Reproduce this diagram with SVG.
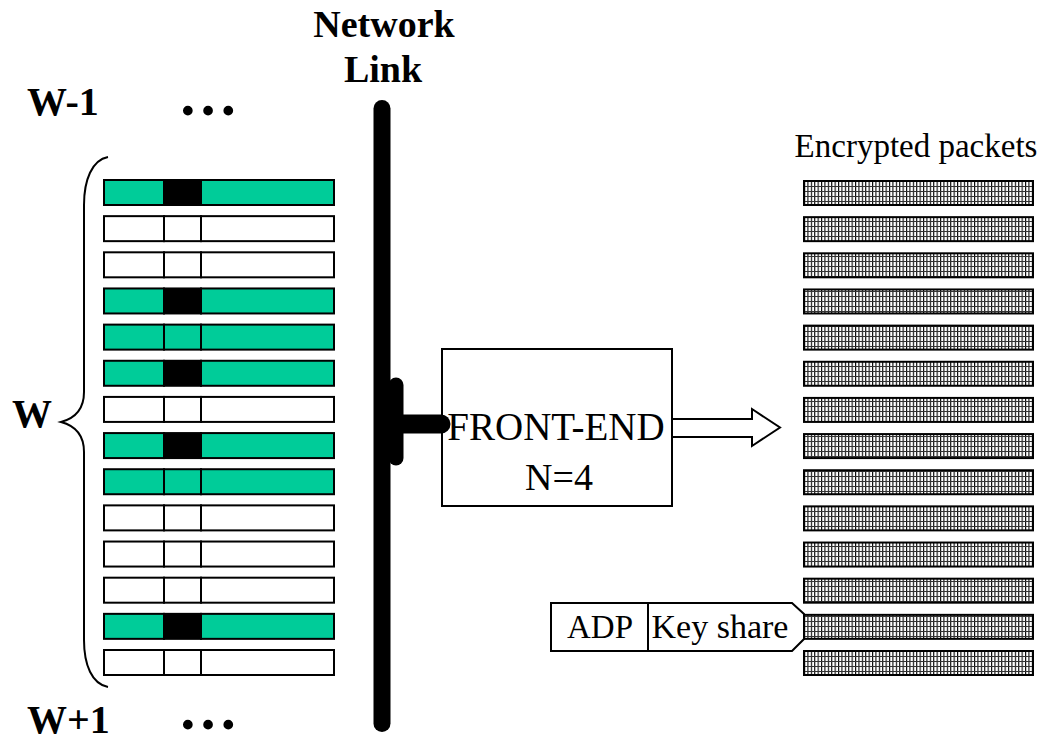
<svg xmlns="http://www.w3.org/2000/svg" width="1047" height="740" viewBox="0 0 1047 740">
<style>
.b{font-family:"Liberation Serif","Times New Roman",serif;font-weight:bold;fill:#000}
.n{font-family:"Liberation Serif","Times New Roman",serif;fill:#000}
.cell{stroke:#000;stroke-width:2}
.g{fill:#00CC99}
.w{fill:#fff}
.k{fill:#000}
.pk{fill:url(#hatch);stroke:#000;stroke-width:2}
</style>
<defs>
<pattern id="hatch" patternUnits="userSpaceOnUse" x="804" y="181" width="3.4" height="5">
<rect width="3.4" height="5" fill="#fff"/>
<rect x="0" y="0" width="1.1" height="5" fill="#000"/>
<rect x="0" y="0" width="3.4" height="1" fill="#333"/>
</pattern>
<g id="rowG"><rect class="cell g" x="104" y="0" width="60" height="25"/><rect class="cell k" x="164" y="0" width="37" height="25"/><rect class="cell g" x="201" y="0" width="133" height="25"/></g>
<g id="rowGG"><rect class="cell g" x="104" y="0" width="60" height="25"/><rect class="cell g" x="164" y="0" width="37" height="25"/><rect class="cell g" x="201" y="0" width="133" height="25"/></g>
<g id="rowW"><rect class="cell w" x="104" y="0" width="60" height="25"/><rect class="cell w" x="164" y="0" width="37" height="25"/><rect class="cell w" x="201" y="0" width="133" height="25"/></g>
</defs>
<rect width="1047" height="740" fill="#fff"/>

<g id="labels">
<text class="b" x="27" y="115" font-size="40">W-1</text>
<text class="b" x="178" y="115" font-size="60">…</text>
<text class="b" x="12" y="427" font-size="40">W</text>
<text class="b" x="27" y="733" font-size="40">W+1</text>
<text class="b" x="178" y="729" font-size="60">…</text>
</g>

<g id="brace">
<path d="M108,157 C92,160 84,180 84,205 L84,392 C84,408 76,418 61,422 C76,426 84,436 84,452 L84,640 C84,665 92,684 108,687" fill="none" stroke="#000" stroke-width="2"/>
</g>

<g id="packets-window">
<use href="#rowG" y="180"/>
<use href="#rowW" y="216.15"/>
<use href="#rowW" y="252.31"/>
<use href="#rowG" y="288.46"/>
<use href="#rowGG" y="324.62"/>
<use href="#rowG" y="360.77"/>
<use href="#rowW" y="396.92"/>
<use href="#rowG" y="433.08"/>
<use href="#rowGG" y="469.23"/>
<use href="#rowW" y="505.38"/>
<use href="#rowW" y="541.54"/>
<use href="#rowW" y="577.69"/>
<use href="#rowG" y="613.85"/>
<use href="#rowW" y="650"/>
</g>

<g id="network-link">
<text class="b" x="384" y="37" font-size="38" text-anchor="middle">Network</text>
<text class="b" x="383" y="82" font-size="38" text-anchor="middle">Link</text>
<line x1="382" y1="108.5" x2="382" y2="723.5" stroke="#000" stroke-width="17" stroke-linecap="round"/>
<line x1="396" y1="385" x2="396" y2="458" stroke="#000" stroke-width="15" stroke-linecap="round"/>
</g>

<g id="front-end">
<rect x="442" y="349" width="230" height="157" fill="none" stroke="#000" stroke-width="2"/>
<text class="n" x="556" y="440" font-size="39" text-anchor="middle">FRONT-END</text>
<text class="n" x="559" y="490" font-size="38" text-anchor="middle">N=4</text>
</g>

<g id="connectors">
<line x1="396" y1="424" x2="441" y2="424" stroke="#000" stroke-width="19" stroke-linecap="round"/>
<polygon points="672,419 752,419 752,409 780,427.5 752,446 752,437 672,437" fill="#fff" stroke="#000" stroke-width="2"/>
</g>

<g id="encrypted">
<text class="n" x="916" y="157" font-size="33" text-anchor="middle">Encrypted packets</text>
<rect class="pk" x="804" y="181" width="229" height="24"/>
<rect class="pk" x="804" y="217.15" width="229" height="24"/>
<rect class="pk" x="804" y="253.31" width="229" height="24"/>
<rect class="pk" x="804" y="289.46" width="229" height="24"/>
<rect class="pk" x="804" y="325.62" width="229" height="24"/>
<rect class="pk" x="804" y="361.77" width="229" height="24"/>
<rect class="pk" x="804" y="397.92" width="229" height="24"/>
<rect class="pk" x="804" y="434.08" width="229" height="24"/>
<rect class="pk" x="804" y="470.23" width="229" height="24"/>
<rect class="pk" x="804" y="506.38" width="229" height="24"/>
<rect class="pk" x="804" y="542.54" width="229" height="24"/>
<rect class="pk" x="804" y="578.69" width="229" height="24"/>
<rect class="pk" x="804" y="614.85" width="229" height="24"/>
<rect class="pk" x="804" y="651" width="229" height="24"/>
</g>

<g id="adp">
<path d="M551,603 L792,603 L804,614 L804,639 L792,651 L551,651 Z" fill="#fff" stroke="#000" stroke-width="2"/>
<line x1="648" y1="603" x2="648" y2="651" stroke="#000" stroke-width="2"/>
<text class="n" x="600" y="638" font-size="33" text-anchor="middle">ADP</text>
<text class="n" x="720" y="638" font-size="34" text-anchor="middle">Key share</text>
</g>
</svg>
